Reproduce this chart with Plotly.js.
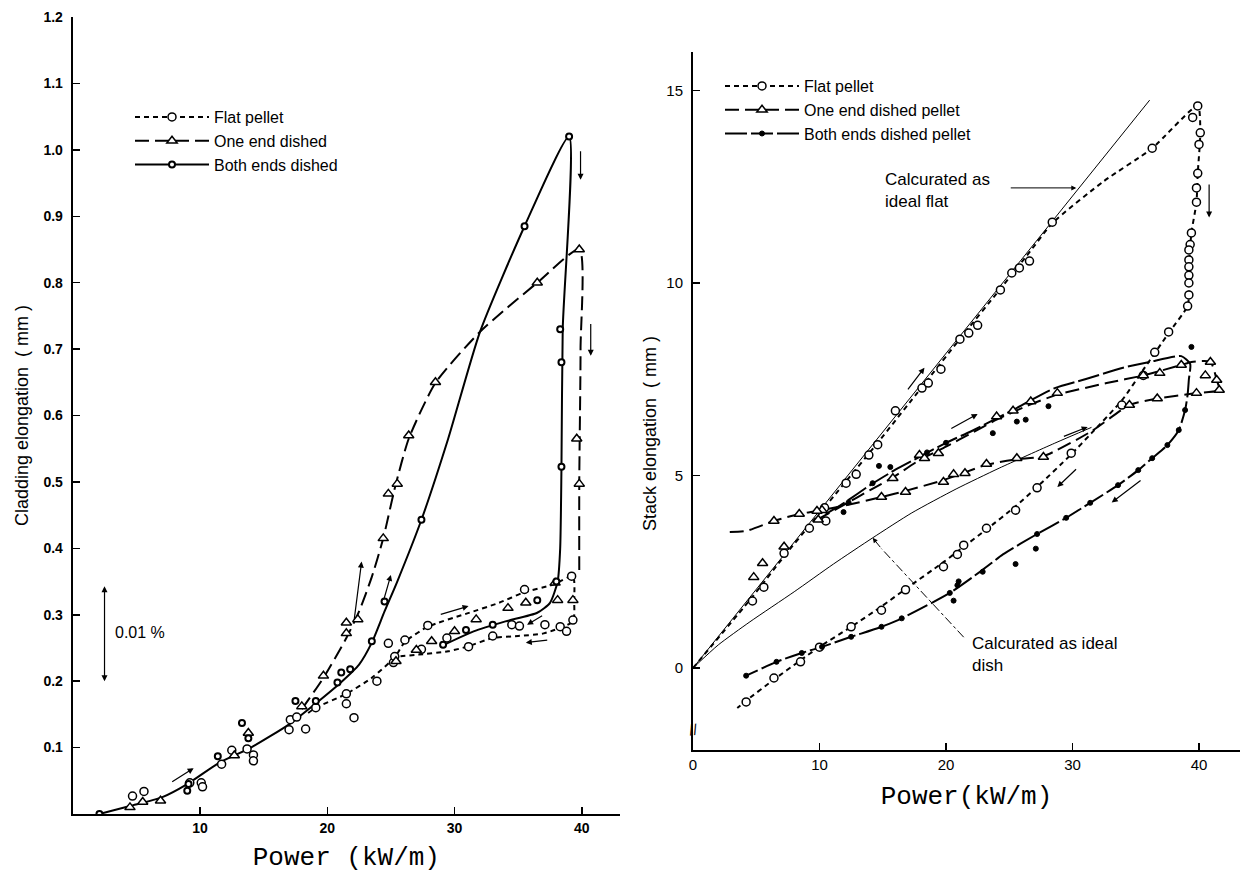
<!DOCTYPE html>
<html>
<head>
<meta charset="utf-8">
<script src="https://cdn.plot.ly/plotly-3.0.1.min.js"></script>
<style>html,body{margin:0;padding:0;background:#fff;}</style>
</head>
<body>
<div id="chart" style="width:1240px;height:880px;"></div>
<script>
// ---------------- LEFT PANEL: Cladding elongation (mm) vs Power (kW/m) ----------------
// Flat pellet: short-dashed curve and open-circle data
const leftFlatLineX = [18.5, 19.1, 21.5, 23.5, 25.3, 26.1, 27.9, 31, 33.5, 35.5, 37.7, 39.3, 39.4, 39.3, 37, 35, 33, 31, 29.5, 27.2, 25.5];
const leftFlatLineY = [0.152, 0.16, 0.181, 0.205, 0.236, 0.259, 0.282, 0.302, 0.318, 0.334, 0.345, 0.358, 0.32, 0.29, 0.272, 0.268, 0.265, 0.252, 0.245, 0.24, 0.237];
const leftFlatPtsX = [4.7, 5.6, 9.2, 10.1, 10.2, 11.7, 12.5, 13.7, 14.2, 14.2, 17.0, 17.1, 17.6, 18.3, 19.1, 21.5, 21.5, 22.1, 23.9, 24.8, 25.2, 25.3, 26.1, 27.4, 27.9, 29.4, 31.1, 33.0, 34.5, 35.1, 35.5, 37.1, 38.3, 38.8, 39.2, 39.3];
const leftFlatPtsY = [0.027, 0.034, 0.047, 0.047, 0.041, 0.075, 0.096, 0.098, 0.089, 0.08, 0.127, 0.142, 0.146, 0.128, 0.160, 0.181, 0.166, 0.145, 0.2, 0.257, 0.228, 0.237, 0.262, 0.248, 0.284, 0.265, 0.252, 0.268, 0.285, 0.283, 0.338, 0.285, 0.282, 0.275, 0.358, 0.292];

// One end dished: long-dashed curve and triangle data
const leftOneLineX = [18, 19.7, 21.5, 22.5, 23.5, 24.4, 25.3, 26.4, 28.5, 32, 36.5, 39.8, 39.9, 39.8, 39.8];
const leftOneLineY = [0.158, 0.205, 0.265, 0.305, 0.357, 0.415, 0.49, 0.565, 0.649, 0.726, 0.80, 0.85, 0.7, 0.5, 0.36];
const leftOnePtsX = [4.5, 5.5, 6.9, 12.7, 13.8, 18.0, 19.7, 21.5, 21.5, 22.4, 24.4, 24.8, 25.5, 26.4, 28.5, 36.5, 39.8, 39.6, 39.8, 39.3, 38.1, 37.9, 35.6, 34.2, 31.7, 30.0, 28.2, 27.0, 25.4];
const leftOnePtsY = [0.01, 0.018, 0.02, 0.088, 0.122, 0.162, 0.208, 0.272, 0.288, 0.293, 0.415, 0.482, 0.497, 0.57, 0.65, 0.80, 0.85, 0.565, 0.497, 0.322, 0.322, 0.348, 0.318, 0.31, 0.293, 0.275, 0.26, 0.247, 0.23];

// Both ends dished: solid curve and small-dot data
const leftBothLineX = [2.1, 4.5, 7, 9, 11.5, 14, 17, 19, 21, 22.5, 23.5, 24.5, 25.5, 27.4, 29.5, 32, 35.5, 39.0, 38.5, 38.4, 38.3, 38.1, 37.5, 36.5, 34, 31.5, 29.2];
const leftBothLineY = [0, 0.012, 0.025, 0.045, 0.077, 0.1, 0.135, 0.165, 0.197, 0.225, 0.258, 0.305, 0.35, 0.443, 0.565, 0.726, 0.885, 1.02, 0.73, 0.52, 0.4, 0.35, 0.318, 0.303, 0.29, 0.275, 0.255];
const leftBothPtsX = [2.1, 9.0, 9.1, 11.4, 13.3, 13.8, 17.5, 19.1, 20.8, 21.1, 21.8, 23.5, 24.5, 27.4, 35.5, 39.0, 38.3, 38.4, 38.4, 38.0, 36.5, 33.0, 30.9, 29.1];
const leftBothPtsY = [0.0, 0.035, 0.045, 0.087, 0.137, 0.114, 0.17, 0.17, 0.198, 0.213, 0.218, 0.26, 0.32, 0.443, 0.885, 1.02, 0.73, 0.68, 0.523, 0.35, 0.322, 0.285, 0.277, 0.255];

const leftXTicks = [10, 20, 30, 40];
const leftYTicks = [0.1, 0.2, 0.3, 0.4, 0.5, 0.6, 0.7, 0.8, 0.9, 1.0, 1.1, 1.2];

// Direction arrows on the left panel: tail -> head
const leftArrowTailX = [7.7, 22.1, 24.4, 28.8, 37.0, 37.4, 40.7, 39.9];
const leftArrowTailY = [0.047, 0.29, 0.32, 0.300, 0.300, 0.262, 0.74, 1.0];
const leftArrowHeadX = [9.5, 22.7, 25.0, 31.1, 35.7, 35.6, 40.7, 39.9];
const leftArrowHeadY = [0.069, 0.38, 0.36, 0.313, 0.285, 0.258, 0.69, 0.955];

// ---------------- RIGHT PANEL: Stack elongation (mm) vs Power (kW/m) ----------------
const rightFlatLineX = [0, 4.7, 7.2, 9.2, 12.1, 14.6, 18.1, 21.1, 24.3, 26.6, 28.4, 32.5, 36.3, 39.9, 40.1, 39.9, 39.8, 39.4, 39.2, 39.2, 39.1, 37.6, 35.6, 33.9, 31.5, 29.9, 27.2, 25.5, 23.2, 21.4, 19.8, 16.8, 14.9, 12.5, 10.0, 8.5, 6.4, 4.2, 3.5];
const rightFlatLineY = [0, 1.85, 2.9, 3.7, 4.85, 5.85, 7.3, 8.55, 9.85, 10.8, 11.55, 12.65, 13.5, 14.6, 13.9, 12.85, 12.1, 11.3, 10.4, 9.7, 9.4, 8.7, 7.75, 6.95, 6.1, 5.55, 4.7, 4.2, 3.6, 3.15, 2.75, 2.05, 1.6, 1.07, 0.55, 0.2, -0.3, -0.85, -1.04];
const rightFlatPtsX = [4.7, 5.6, 7.2, 9.2, 10.4, 10.5, 12.1, 12.9, 13.9, 14.6, 16.0, 18.1, 18.6, 19.6, 21.1, 21.8, 22.5, 24.3, 25.2, 25.8, 26.6, 28.4, 36.3, 39.5, 39.9, 40.1, 40.0, 39.9, 39.8, 39.8, 39.4, 39.3, 39.2, 39.2, 39.2, 39.2, 39.2, 39.2, 39.1, 37.6, 36.5, 35.6, 33.9, 29.9, 27.2, 25.5, 23.2, 21.4, 20.9, 19.8, 16.8, 14.9, 12.5, 10.0, 8.5, 6.4, 4.2];
const rightFlatPtsY = [1.74, 2.1, 2.98, 3.63, 4.16, 3.82, 4.8, 5.03, 5.53, 5.8, 6.68, 7.27, 7.4, 7.76, 8.54, 8.7, 8.9, 9.82, 10.26, 10.39, 10.57, 11.58, 13.5, 14.3, 14.6, 13.9, 13.6, 12.85, 12.47, 12.1, 11.3, 11.0, 10.86, 10.6, 10.42, 10.2, 10.0, 9.69, 9.4, 8.73, 8.2, 7.6, 6.83, 5.58, 4.68, 4.1, 3.63, 3.19, 2.95, 2.63, 2.03, 1.5, 1.07, 0.54, 0.16, -0.26, -0.88];

const rightOneLineX = [9.8, 12, 14, 15.8, 17.9, 20, 22, 24, 26.7, 28.8, 32.7, 35.6, 38.6, 39.4, 40.9, 41.4, 41.6, 39.8, 36.7, 34.5, 31.5, 27.7, 25.6, 23.2, 21.5, 19.8, 16.8, 14.9, 12, 9.8, 8.4, 6.4, 4.2, 2.8];
const rightOneLineY = [3.85, 4.25, 4.62, 4.95, 5.4, 5.75, 6.1, 6.45, 6.85, 7.1, 7.4, 7.6, 7.87, 7.95, 7.95, 7.48, 7.22, 7.14, 7.0, 6.83, 6.15, 5.5, 5.42, 5.28, 5.08, 4.88, 4.6, 4.44, 4.22, 4.08, 4.0, 3.82, 3.56, 3.53];
const rightOnePtsX = [4.8, 5.5, 7.2, 9.9, 10.2, 15.8, 17.9, 18.3, 19.4, 24.0, 25.3, 26.7, 28.8, 35.6, 36.9, 38.6, 40.9, 41.4, 41.6, 40.5, 39.8, 36.7, 34.5, 27.7, 25.6, 23.2, 21.5, 20.6, 19.8, 16.8, 14.9, 9.8, 8.4, 6.4];
const rightOnePtsY = [2.36, 2.72, 3.15, 3.85, 4.1, 4.93, 5.53, 5.45, 5.58, 6.53, 6.68, 6.92, 7.14, 7.6, 7.66, 7.87, 7.95, 7.48, 7.22, 7.6, 7.14, 7.0, 6.83, 5.48, 5.45, 5.3, 5.06, 5.03, 4.83, 4.57, 4.44, 4.08, 4.0, 3.82];

const rightBothLineX = [10.5, 12, 14, 16, 18, 20, 22, 25, 28.6, 31, 34, 36.1, 38.6, 39.3, 39.2, 39.1, 38.9, 38.4, 37.5, 36.3, 35.2, 33.6, 31.4, 29.5, 27.2, 24.5, 22.9, 20.3, 16.5, 14.9, 12.5, 10.2, 8.6, 6.6, 4.2];
const rightBothLineY = [4.0, 4.3, 4.75, 5.15, 5.5, 5.85, 6.15, 6.65, 7.27, 7.5, 7.8, 7.95, 8.1, 7.9, 7.5, 7.1, 6.7, 6.18, 5.79, 5.45, 5.14, 4.75, 4.29, 3.9, 3.48, 2.95, 2.55, 1.95, 1.29, 1.07, 0.81, 0.55, 0.39, 0.16, -0.2];
const rightBothPtsX = [11.9, 12.3, 14.2, 14.7, 15.6, 18.5, 20, 23.7, 25.6, 26.3, 28.1, 39.4, 38.9, 38.4, 37.5, 36.3, 35.2, 33.6, 31.4, 29.5, 27.2, 27.1, 25.5, 22.9, 20.3, 20.6, 20.9, 21.0, 16.5, 14.9, 12.5, 10.2, 8.6, 6.6, 4.2];
const rightBothPtsY = [4.05, 4.3, 4.8, 5.25, 5.22, 5.6, 5.85, 6.1, 6.4, 6.45, 6.8, 8.34, 6.7, 6.18, 5.79, 5.45, 5.14, 4.75, 4.29, 3.9, 3.48, 3.1, 2.7, 2.5, 1.95, 1.75, 2.15, 2.25, 1.29, 1.07, 0.81, 0.55, 0.39, 0.16, -0.2];

// Calculated curves
const idealFlatX = [0, 36.1];
const idealFlatY = [0, 14.75];
const idealDishX = [0, 2, 4.5, 8, 11.1, 14.2, 17.3, 20.8, 24.2, 28.6, 31.5];
const idealDishY = [0, 0.6, 1.2, 1.98, 2.7, 3.38, 4.03, 4.65, 5.19, 5.84, 6.25];

const rightXTicks = [0, 10, 20, 30, 40];
const rightYTicks = [0, 5, 10, 15];

const rightArrowTailX = [16.9, 20.3, 29.2, 40.8, 30.4, 35.5];
const rightArrowTailY = [7.2, 6.2, 6.0, 12.6, 5.2, 4.9];
const rightArrowHeadX = [18.3, 22.5, 31.2, 40.8, 28.8, 33.1];
const rightArrowHeadY = [7.8, 6.6, 6.26, 11.7, 4.7, 4.3];

// ---------------- styles ----------------
const BLK = '#000';
const SANS = 'Liberation Sans, Arial, sans-serif';
const MONO = 'Liberation Mono, Courier New, monospace';
const FLAT_DASH = '5px,4px';
const ONE_DASH = '14px,6px';
const RBOTH_DASH = '22px,4px';

function lineTrace(x, y, dash, width, xa, ya) {
  return {type: 'scatter', mode: 'lines', x: x, y: y, xaxis: xa, yaxis: ya,
    line: {color: BLK, width: width, dash: dash, shape: 'spline', smoothing: 0.6},
    showlegend: false, hoverinfo: 'skip'};
}
function ptsTrace(x, y, marker, xa, ya) {
  return {type: 'scatter', mode: 'markers', x: x, y: y, xaxis: xa, yaxis: ya,
    marker: marker, showlegend: false, hoverinfo: 'x+y'};
}
function legendTrace(name, dash, marker, legendId) {
  return {type: 'scatter', mode: 'lines+markers', x: [null], y: [null], name: name,
    line: {color: BLK, width: 2, dash: dash}, marker: marker, legend: legendId,
    xaxis: legendId === 'legend' ? 'x' : 'x2', yaxis: legendId === 'legend' ? 'y' : 'y2'};
}

const mCircle = {symbol: 'circle', size: 8, color: '#fff', line: {color: BLK, width: 1.5}};
const mTri = {symbol: 'triangle-up', size: 9, color: '#fff', line: {color: BLK, width: 1.5}};
const mDotL = {symbol: 'circle', size: 6, color: '#fff', line: {color: BLK, width: 2}};
const mDotR = {symbol: 'circle', size: 5, color: BLK, line: {color: BLK, width: 1}};

const traces = [
  // left
  lineTrace(leftFlatLineX, leftFlatLineY, FLAT_DASH, 2, 'x', 'y'),
  lineTrace(leftOneLineX, leftOneLineY, ONE_DASH, 2, 'x', 'y'),
  lineTrace(leftBothLineX, leftBothLineY, 'solid', 2, 'x', 'y'),
  ptsTrace(leftFlatPtsX, leftFlatPtsY, mCircle, 'x', 'y'),
  ptsTrace(leftOnePtsX, leftOnePtsY, mTri, 'x', 'y'),
  ptsTrace(leftBothPtsX, leftBothPtsY, mDotL, 'x', 'y'),
  legendTrace('Flat pellet', FLAT_DASH, mCircle, 'legend'),
  legendTrace('One end dished', ONE_DASH, mTri, 'legend'),
  legendTrace('Both ends dished', 'solid', mDotL, 'legend'),
  // right
  lineTrace(idealFlatX, idealFlatY, 'solid', 1, 'x2', 'y2'),
  lineTrace(idealDishX, idealDishY, 'solid', 1, 'x2', 'y2'),
  lineTrace(rightFlatLineX, rightFlatLineY, FLAT_DASH, 2, 'x2', 'y2'),
  lineTrace(rightOneLineX, rightOneLineY, ONE_DASH, 2, 'x2', 'y2'),
  lineTrace(rightBothLineX, rightBothLineY, RBOTH_DASH, 2, 'x2', 'y2'),
  ptsTrace(rightFlatPtsX, rightFlatPtsY, mCircle, 'x2', 'y2'),
  ptsTrace(rightOnePtsX, rightOnePtsY, mTri, 'x2', 'y2'),
  ptsTrace(rightBothPtsX, rightBothPtsY, mDotR, 'x2', 'y2'),
  legendTrace('Flat pellet', FLAT_DASH, mCircle, 'legend2'),
  legendTrace('One end dished pellet', ONE_DASH, mTri, 'legend2'),
  legendTrace('Both ends dished pellet', RBOTH_DASH, mDotR, 'legend2')
];

// arrows as annotations (tail -> head in data coordinates)
const annotations = [];
function addArrows(tx, ty, hx, hy, xr, yr) {
  for (let i = 0; i < tx.length; i++) {
    annotations.push({xref: xr, yref: yr, axref: xr, ayref: yr, x: hx[i], y: hy[i], ax: tx[i], ay: ty[i],
      text: '', showarrow: true, arrowhead: 2, arrowsize: 1, arrowwidth: 1.2, arrowcolor: BLK, standoff: 0});
  }
}
addArrows(leftArrowTailX, leftArrowTailY, leftArrowHeadX, leftArrowHeadY, 'x', 'y');
addArrows(rightArrowTailX, rightArrowTailY, rightArrowHeadX, rightArrowHeadY, 'x2', 'y2');

// 0.01 % scale bar (double arrow)
annotations.push({xref: 'x', yref: 'y', axref: 'x', ayref: 'y', x: 2.5, y: 0.2, ax: 2.5, ay: 0.345,
  text: '', showarrow: true, arrowhead: 2, arrowside: 'end+start', arrowsize: 1, arrowwidth: 1.2, arrowcolor: BLK, standoff: 0, startstandoff: 0});
annotations.push({xref: 'x', yref: 'y', x: 3.2, y: 0.273, xanchor: 'left', yanchor: 'middle', showarrow: false,
  text: '0.01 %', font: {family: SANS, size: 16, color: BLK}});

// calculated-curve labels
annotations.push({xref: 'x2', yref: 'y2', x: 15.0, y: 12.4, xanchor: 'left', yanchor: 'middle', align: 'left', showarrow: false,
  text: 'Calcurated as<br>ideal flat', font: {family: SANS, size: 17, color: BLK}});
annotations.push({xref: 'x2', yref: 'y2', axref: 'x2', ayref: 'y2', x: 30.3, y: 12.47, ax: 25.0, ay: 12.47,
  text: '', showarrow: true, arrowhead: 2, arrowsize: 1, arrowwidth: 1, arrowcolor: BLK, standoff: 0});
annotations.push({xref: 'x2', yref: 'y2', x: 21.9, y: 0.36, xanchor: 'left', yanchor: 'middle', align: 'left', showarrow: false,
  text: 'Calcurated as ideal<br>dish', font: {family: SANS, size: 17, color: BLK}});
annotations.push({xref: 'x2', yref: 'y2', axref: 'x2', ayref: 'y2', x: 14.2, y: 3.38, ax: 14.9, ay: 3.1,
  text: '', showarrow: true, arrowhead: 2, arrowsize: 1, arrowwidth: 1, arrowcolor: BLK, standoff: 0});
// axis break mark
annotations.push({xref: 'x2', yref: 'y2', x: 0, y: -1.6, showarrow: false, text: '//', textangle: -10,
  font: {family: SANS, size: 15, color: BLK}});
// right y-axis title
annotations.push({xref: 'paper', yref: 'paper', x: 650 / 1240, y: 1 - 434 / 880, xanchor: 'center', yanchor: 'middle',
  showarrow: false, textangle: -90, text: 'Stack elongation  ( mm )', font: {family: SANS, size: 18, color: BLK}});

const shapes = [
  {type: 'line', xref: 'x2', yref: 'y2', x0: 21.4, y0: 0.8, x1: 14.9, y1: 3.1, line: {color: BLK, width: 1, dash: 'dashdot'}}
];

const axisCommon = {showline: true, linecolor: BLK, linewidth: 2, ticks: 'inside', ticklen: 7, tickwidth: 1.5, tickcolor: BLK,
  showgrid: false, zeroline: false, fixedrange: true};
const leftTickFont = {family: SANS, size: 14, color: BLK, weight: 'bold'};
const rightTickFont = {family: SANS, size: 15, color: BLK};

const layout = {
  width: 1240, height: 880,
  margin: {l: 0, r: 0, t: 0, b: 0},
  paper_bgcolor: '#fff', plot_bgcolor: '#fff',
  font: {family: SANS, size: 14, color: BLK},
  showlegend: true,
  xaxis: Object.assign({}, axisCommon, {domain: [72.7 / 1240, 620 / 1240], range: [0, 43], anchor: 'y', tickvals: leftXTicks,
    tickfont: leftTickFont,
    title: {text: 'Power (kW/m)', font: {family: MONO, size: 26, color: BLK}, standoff: 12}}),
  yaxis: Object.assign({}, axisCommon, {domain: [1 - 814 / 880, 1 - 17 / 880], range: [0, 1.2], anchor: 'x', tickvals: leftYTicks,
    tickformat: '.1f', ticklabelstandoff: 5, tickfont: leftTickFont,
    title: {text: 'Cladding elongation  ( mm )', font: {family: SANS, size: 18, color: BLK}, standoff: 10}}),
  xaxis2: Object.assign({}, axisCommon, {domain: [693 / 1240, 1], range: [0, (1240 - 693) / 12.65], anchor: 'y2', tickvals: rightXTicks,
    tickfont: rightTickFont,
    title: {text: 'Power(kW/m)', font: {family: MONO, size: 26, color: BLK}, standoff: 14}}),
  yaxis2: Object.assign({}, axisCommon, {domain: [1 - 750 / 880, 1 - 52 / 880], range: [(668 - 750) / 38.5, (668 - 52) / 38.5],
    anchor: 'x2', tickvals: rightYTicks, ticklabelstandoff: 5, tickfont: rightTickFont}),
  legend: {x: 130 / 1240, y: 1 - 100 / 880, xanchor: 'left', yanchor: 'top', bgcolor: 'rgba(0,0,0,0)', itemwidth: 74,
    font: {family: SANS, size: 16, color: BLK}, tracegroupgap: 0},
  legend2: {x: 720 / 1240, y: 1 - 69 / 880, xanchor: 'left', yanchor: 'top', bgcolor: 'rgba(0,0,0,0)', itemwidth: 74,
    font: {family: SANS, size: 16, color: BLK}, tracegroupgap: 0},
  annotations: annotations,
  shapes: shapes
};

Plotly.newPlot('chart', traces, layout, {displayModeBar: false, staticPlot: true});
</script>
</body>
</html>
